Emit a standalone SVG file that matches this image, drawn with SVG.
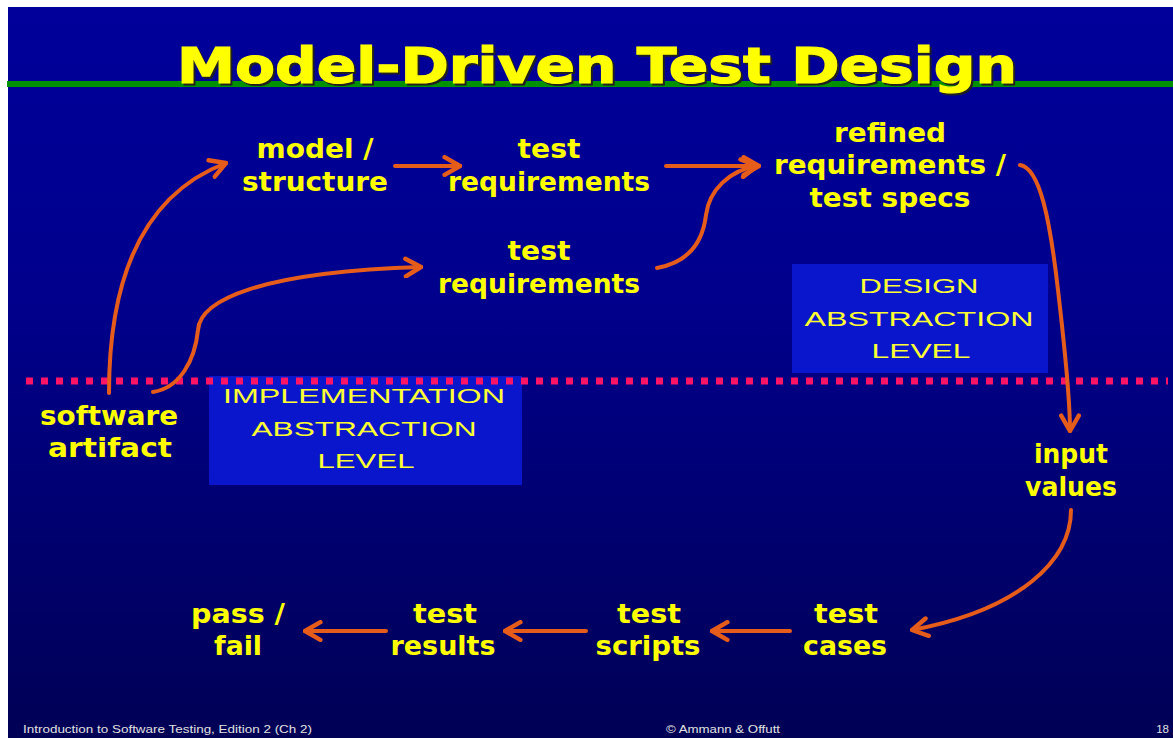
<svg xmlns="http://www.w3.org/2000/svg" width="1173" height="738" viewBox="0 0 1173 738">
  <defs>
    <linearGradient id="bg" x1="0" y1="0" x2="0" y2="1">
      <stop offset="0" stop-color="#00009a"/>
      <stop offset="0.4" stop-color="#00008c"/>
      <stop offset="1" stop-color="#000055"/>
    </linearGradient>
    <marker id="arr" viewBox="0 0 20 20" refX="18" refY="10" markerWidth="22" markerHeight="22" markerUnits="userSpaceOnUse" orient="auto">
      <path d="M4,2 L18,10 L4,18" fill="none" stroke="#e65c1a" stroke-width="4" stroke-linecap="round" stroke-linejoin="round"/>
    </marker>
    <style>
      .node { font-family: "DejaVu Sans", "Liberation Sans", sans-serif; font-weight: bold; font-size: 26px; fill: #ffff00; text-anchor: middle; }
      .lvl { font-family: "Liberation Sans", "DejaVu Sans", sans-serif; font-size: 20px; fill: #ffff33; text-anchor: middle; }
      .box { fill: #0a16cc; }
      .conn { fill: none; stroke: #e65c1a; stroke-width: 4; stroke-linecap: round; marker-end: url(#arr); }
      .foot { font-family: "Liberation Sans", Arial, sans-serif; font-size: 11.5px; fill: #e0e0e0; }
    </style>
  </defs>

  <!-- background -->
  <rect x="0" y="0" width="1173" height="738" fill="#ffffff"/>
  <rect x="8" y="7" width="1165" height="731" fill="url(#bg)"/>
  <rect x="7" y="81" width="1166" height="6" fill="#009000"/>

  <!-- title -->
  <g id="title">
    <text x="179" y="85" font-family="DejaVu Sans, Verdana, sans-serif" font-weight="bold" font-size="49" fill="#202020" stroke="#202020" stroke-width="1.2" textLength="840" lengthAdjust="spacingAndGlyphs">Model-Driven Test Design</text>
    <text x="177" y="83" font-family="DejaVu Sans, Verdana, sans-serif" font-weight="bold" font-size="49" fill="#ffff00" stroke="#ffff00" stroke-width="1.2" textLength="840" lengthAdjust="spacingAndGlyphs">Model-Driven Test Design</text>
  </g>

  <!-- abstraction level boxes -->
  <g id="design-level">
    <rect class="box" x="792" y="264" width="256" height="109"/>
    <text class="lvl" x="919" y="293" textLength="119" lengthAdjust="spacingAndGlyphs">DESIGN</text>
    <text class="lvl" x="919" y="326" textLength="229" lengthAdjust="spacingAndGlyphs">ABSTRACTION</text>
    <text class="lvl" x="921" y="358" textLength="99" lengthAdjust="spacingAndGlyphs">LEVEL</text>
  </g>
  <g id="implementation-level">
    <rect class="box" x="209" y="376" width="313" height="109"/>
    <text class="lvl" x="364" y="403" textLength="282" lengthAdjust="spacingAndGlyphs">IMPLEMENTATION</text>
    <text class="lvl" x="364" y="436" textLength="225" lengthAdjust="spacingAndGlyphs">ABSTRACTION</text>
    <text class="lvl" x="366" y="468" textLength="97" lengthAdjust="spacingAndGlyphs">LEVEL</text>
  </g>

  <!-- dotted divider -->
  <line x1="26" y1="381" x2="1168" y2="381" stroke="#ff1466" stroke-width="7" stroke-dasharray="7 8"/>

  <!-- connectors -->
  <g id="connectors">
    <path class="conn" d="M109,393 C109,280 142,195 226,163"/>
    <path class="conn" d="M153,392 C180,388 195,360 198,330 C200,300 260,272 421,267"/>
    <path class="conn" d="M395,166 L460,166"/>
    <path class="conn" d="M666,166 L759,166"/>
    <path class="conn" d="M657,268 C690,262 703,240 706,215 C709,190 730,170 757,166"/>
    <path class="conn" d="M1020,165 C1040,168 1050,220 1058,290 C1065,350 1070,400 1070,431"/>
    <path class="conn" d="M1071,510 C1071,560 1020,610 912,630"/>
    <path class="conn" d="M790,631 L712,631"/>
    <path class="conn" d="M586,631 L505,631"/>
    <path class="conn" d="M386,631 L305,631"/>
  </g>

  <!-- nodes -->
  <g id="model-structure">
    <text class="node" x="315" y="158" textLength="117" lengthAdjust="spacingAndGlyphs">model /</text>
    <text class="node" x="315" y="191" textLength="146" lengthAdjust="spacingAndGlyphs">structure</text>
  </g>
  <g id="test-requirements-top">
    <text class="node" x="549" y="158" textLength="63" lengthAdjust="spacingAndGlyphs">test</text>
    <text class="node" x="549" y="191" textLength="202" lengthAdjust="spacingAndGlyphs">requirements</text>
  </g>
  <g id="test-requirements-mid">
    <text class="node" x="539" y="260" textLength="63" lengthAdjust="spacingAndGlyphs">test</text>
    <text class="node" x="539" y="293" textLength="202" lengthAdjust="spacingAndGlyphs">requirements</text>
  </g>
  <g id="refined-requirements">
    <text class="node" x="890" y="142" textLength="112" lengthAdjust="spacingAndGlyphs">refined</text>
    <text class="node" x="890" y="174" textLength="232" lengthAdjust="spacingAndGlyphs">requirements /</text>
    <text class="node" x="890" y="207" textLength="161" lengthAdjust="spacingAndGlyphs">test specs</text>
  </g>
  <g id="software-artifact">
    <text class="node" x="109" y="425" textLength="138" lengthAdjust="spacingAndGlyphs">software</text>
    <text class="node" x="110" y="457" textLength="124" lengthAdjust="spacingAndGlyphs">artifact</text>
  </g>
  <g id="input-values">
    <text class="node" x="1071" y="463" textLength="74" lengthAdjust="spacingAndGlyphs">input</text>
    <text class="node" x="1071" y="496" textLength="92" lengthAdjust="spacingAndGlyphs">values</text>
  </g>
  <g id="test-cases">
    <text class="node" x="846" y="623" textLength="64" lengthAdjust="spacingAndGlyphs">test</text>
    <text class="node" x="845" y="655" textLength="84" lengthAdjust="spacingAndGlyphs">cases</text>
  </g>
  <g id="test-scripts">
    <text class="node" x="649" y="623" textLength="64" lengthAdjust="spacingAndGlyphs">test</text>
    <text class="node" x="648" y="655" textLength="105" lengthAdjust="spacingAndGlyphs">scripts</text>
  </g>
  <g id="test-results">
    <text class="node" x="445" y="623" textLength="64" lengthAdjust="spacingAndGlyphs">test</text>
    <text class="node" x="443" y="655" textLength="105" lengthAdjust="spacingAndGlyphs">results</text>
  </g>
  <g id="pass-fail">
    <text class="node" x="238" y="623" textLength="94" lengthAdjust="spacingAndGlyphs">pass /</text>
    <text class="node" x="238" y="655" textLength="48" lengthAdjust="spacingAndGlyphs">fail</text>
  </g>

  <!-- footer -->
  <g id="footer">
    <text class="foot" x="23" y="733" textLength="289" lengthAdjust="spacingAndGlyphs">Introduction to Software Testing, Edition 2  (Ch 2)</text>
    <text class="foot" x="666" y="733" textLength="114" lengthAdjust="spacingAndGlyphs">© Ammann &amp; Offutt</text>
    <text class="foot" x="1169" y="733" text-anchor="end">18</text>
  </g>
</svg>
